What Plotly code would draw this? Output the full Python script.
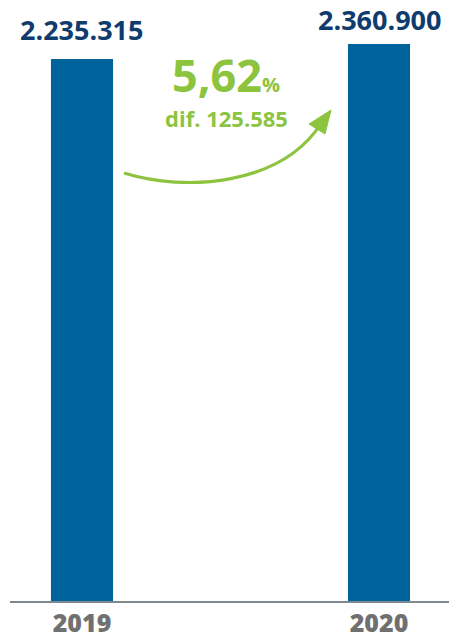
import plotly.graph_objects as go

# ---- data ----
years = ["2019", "2020"]
values = [2235315, 2360900]
value_labels = ["2.235.315", "2.360.900"]
pct_label = "5,62"
diff_label = "dif. 125.585"

# ---- layout constants ----
W, H = 449, 638
ML, MR, MT, MB = 10, 0, 0, 37
PW, PH = W - ML - MR, H - MT - MB

# visual axis window (chart is not zero-based in the reference)
y_lo, y_hi = -2302462, 2729280

BAR = "#00639c"
NAVY = "#0f3b6d"
GREEN = "#8cc43f"
GRAY = "#707070"
AXIS = "#7d8891"
FONT = "Open Sans"
LABEL_SHIFTS = [9, 4]


def px(x, y):
    """pixel -> paper coords (decorations only)"""
    return (x - ML) / PW, (H - MB - y) / PH


fig = go.Figure()
fig.add_trace(go.Bar(
    x=years, y=[v - y_lo for v in values], base=y_lo,
    marker=dict(color=BAR, line=dict(width=0)),
    width=0.209, hoverinfo="skip",
))

for i, (v, lab) in enumerate(zip(values, value_labels)):
    fig.add_annotation(x=i, y=v, xref="x", yref="y", text=f"<b>{lab}</b>",
                       showarrow=False, yanchor="bottom", yshift=LABEL_SHIFTS[i],
                       font=dict(family=FONT, size=27, color=NAVY, weight=800))

# percentage + difference text
cx, _ = px(226, 0)
_, y1 = px(0, 97)
_, y2 = px(0, 129)
fig.add_annotation(xref="paper", yref="paper", x=cx, y=y1, yanchor="bottom",
                   yshift=-10, showarrow=False,
                   text=f"<b>{pct_label}</b><span style='font-size:20px'><b>%</b></span>",
                   font=dict(family=FONT, size=45, color=GREEN, weight=800))
fig.add_annotation(xref="paper", yref="paper", x=cx, y=y2, yanchor="bottom",
                   yshift=-6, showarrow=False, text=f"<b>{diff_label}</b>",
                   font=dict(family=FONT, size=22, color=GREEN, weight=800))

# curved arrow
p0 = px(124, 173); p1 = px(185, 192); p2 = px(282, 186); p3 = px(322, 122)
path = (f"M {p0[0]},{p0[1]} C {p1[0]},{p1[1]} {p2[0]},{p2[1]} {p3[0]},{p3[1]}")
fig.add_shape(type="path", xref="paper", yref="paper", path=path,
              line=dict(color=GREEN, width=3.2))
t = px(331, 110); w1 = px(309, 124); w2 = px(325, 134)
head = f"M {t[0]},{t[1]} L {w1[0]},{w1[1]} L {w2[0]},{w2[1]} Z"
fig.add_shape(type="path", xref="paper", yref="paper", path=head,
              line=dict(color=GREEN, width=1), fillcolor=GREEN)

fig.update_layout(
    width=W, height=H,
    margin=dict(l=ML, r=MR, t=MT, b=MB, autoexpand=False),
    paper_bgcolor="white", plot_bgcolor="white",
    showlegend=False,
    xaxis=dict(type="category", range=[-0.2424, 1.2357], showgrid=False,
               showline=True, linecolor=AXIS, linewidth=2, ticks="",
               tickfont=dict(family=FONT, size=25, color=GRAY, weight=800),
               ticklabelstandoff=-1, fixedrange=True, automargin=False),
    yaxis=dict(range=[y_lo, y_hi], visible=False, showgrid=False,
               zeroline=False, fixedrange=True),
)

fig.write_html("out.html",
               config={"displayModeBar": False, "staticPlot": True},
               post_script="document.body.style.margin='0';"
                           "document.body.style.overflow='hidden';")
